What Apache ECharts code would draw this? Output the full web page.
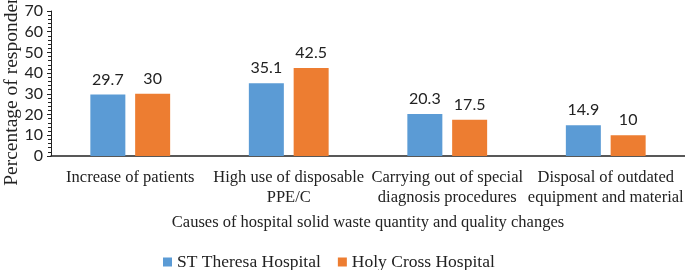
<!DOCTYPE html>
<html>
<head>
<meta charset="utf-8">
<script src="https://cdn.jsdelivr.net/npm/echarts@6/dist/echarts.min.js"></script>
<style>
  html, body { margin: 0; padding: 0; background: #fff; }
  #chart { width: 685px; height: 270px; }
</style>
</head>
<body>
<div id="chart"></div>
<script>
// 数据
const categories = [
  "Increase of patients",
  "High use of disposable\nPPE/C",
  "Carrying out of special\ndiagnosis procedures",
  "Disposal of outdated\nequipment and material"
];
const stTheresa = [29.7, 35.1, 20.3, 14.9];
const holyCross = [30, 42.5, 17.5, 10];

let chart = echarts.init(document.getElementById("chart"));

const serif = "'Liberation Serif', 'Times New Roman', serif";
const sans = "Lato, 'Open Sans', sans-serif";

const option = {
  animation: false,
  color: ["#5B9BD5", "#ED7D31"],
  legend: {
    top: 253,
    left: 163,
    itemWidth: 9,
    itemHeight: 9,
    itemGap: 17,
    icon: "rect",
    padding: 0,
    textStyle: { fontFamily: serif, fontSize: 17.5, color: "#222" }
  },
  grid: {
    left: 51,
    right: 0,
    top: 11,
    height: 145,
    outerBoundsMode: "none",
    containLabel: false
  },
  xAxis: {
    type: "category",
    data: categories,
    name: "Causes of hospital solid waste quantity and quality changes",
    nameLocation: "middle",
    nameGap: 58,
    nameTextStyle: { fontFamily: serif, fontSize: 16.5, color: "#222" },
    axisTick: { show: false },
    axisLine: { lineStyle: { color: "#222", width: 1.5 } },
    axisLabel: {
      fontFamily: serif,
      fontSize: 16.5,
      color: "#222",
      margin: 12,
      lineHeight: 20,
      interval: 0
    }
  },
  yAxis: {
    type: "value",
    min: 0,
    max: 70,
    interval: 10,
    name: "Percentage of respondents",
    nameLocation: "middle",
    nameGap: 29,
    nameMoveOverlap: false,
    nameTextStyle: { fontFamily: serif, fontSize: 19.5, color: "#222" },
    axisLine: { show: true, lineStyle: { color: "#222" } },
    axisTick: { show: true, length: 4, lineStyle: { color: "#222" } },
    minorTick: { show: true, splitNumber: 5, length: 3, lineStyle: { color: "#222" } },
    splitLine: { show: false },
    axisLabel: { fontFamily: sans, fontSize: 16, color: "#222", margin: 8 }
  },
  series: [
    {
      name: "ST Theresa Hospital",
      type: "bar",
      data: stTheresa,
      barWidth: 35,
      barGap: "28%",
      label: { show: true, position: "top", distance: 7, fontFamily: sans, fontSize: 16, color: "#222" }
    },
    {
      name: "Holy Cross Hospital",
      type: "bar",
      data: holyCross,
      barWidth: 35,
      label: { show: true, position: "top", distance: 7, fontFamily: sans, fontSize: 16, color: "#222" }
    }
  ]
};

chart.setOption(option);
</script>
</body>
</html>
